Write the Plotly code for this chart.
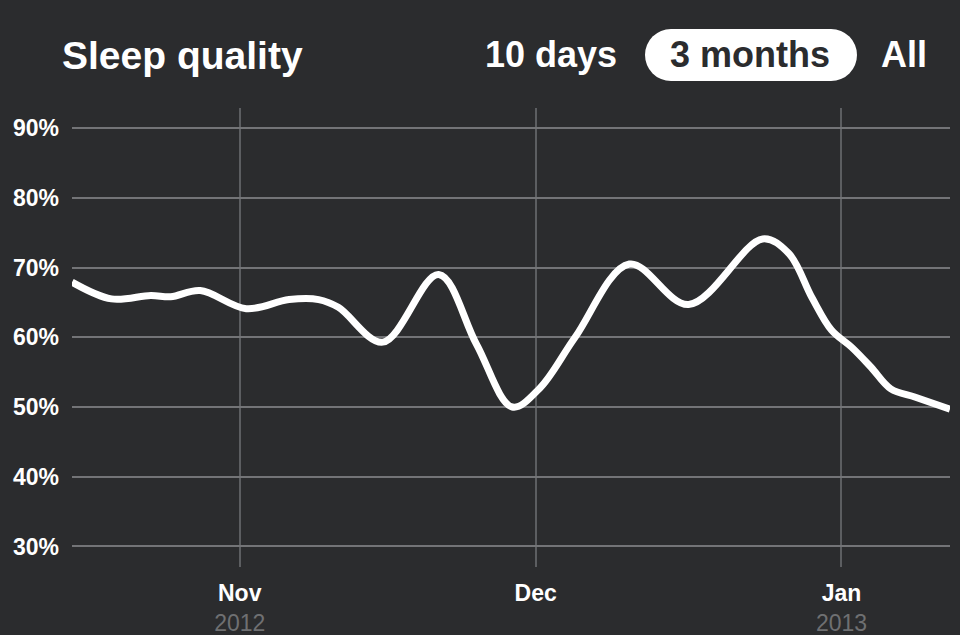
import plotly.graph_objects as go

# ---- data ----
dates = ["2012-10-15", "2012-10-19", "2012-10-23", "2012-10-25", "2012-10-28",
         "2012-11-01 16:00", "2012-11-06", "2012-11-09", "2012-11-11",
         "2012-11-15 12:00", "2012-11-21 04:00", "2012-11-25",
         "2012-11-28 15:00", "2012-12-01 10:00", "2012-12-05",
         "2012-12-10 12:00", "2012-12-16 12:00", "2012-12-24",
         "2012-12-26 16:00", "2012-12-29", "2012-12-31", "2013-01-02", "2013-01-04",
         "2013-01-06", "2013-01-08 12:00", "2013-01-12"]
quality = [67.9, 65.5, 66.0, 65.8, 66.7,
           64.1, 65.4, 65.4, 64.3,
           59.3, 69.0, 59.0,
           50.0, 52.7, 60.0,
           70.5, 64.7, 74.1,
           72.0, 65.7, 61.0, 58.6, 55.7,
           52.6, 51.4, 49.7]

y_ticks = [30, 40, 50, 60, 70, 80, 90]
y_labels = ["30%", "40%", "50%", "60%", "70%", "80%", "90%"]
x_ticks = ["2012-11-01", "2012-12-01", "2013-01-01"]
x_months = ["Nov", "Dec", "Jan"]
x_years = ["2012", "", "2013"]
buttons = ["10 days", "3 months", "All"]
title = "Sleep quality"

BG = "#2b2c2e"
FONT = "Liberation Sans, Arial, Helvetica, sans-serif"

W, H = 960, 635
L, R, T, B = 72, 10, 108, 68
pw, ph = W - L - R, H - T - B


def px_x(x):
    return (x - L) / pw


def px_y(y):
    return (H - B - y) / ph


x_text = []
for m, yr in zip(x_months, x_years):
    t = "<b>" + m + "</b>"
    if yr:
        t += "<br><span style='color:#6f7072'>" + yr + "</span>"
    x_text.append(t)

fig = go.Figure()
fig.add_trace(go.Scatter(
    x=dates, y=quality, mode="lines",
    line=dict(color="white", width=7, shape="spline", smoothing=1.0),
    hoverinfo="skip", showlegend=False,
))

fig.update_layout(
    width=W, height=H,
    margin=dict(l=L, r=R, t=T, b=B, autoexpand=False),
    paper_bgcolor=BG, plot_bgcolor=BG,
    font=dict(family=FONT, color="white"),
    title=dict(text="<b>" + title + "</b>", xref="container", yref="container",
               x=62 / W, xanchor="left", y=1 - 55 / H, yanchor="middle",
               font=dict(size=39, color="white", family=FONT)),
    xaxis=dict(type="date", range=["2012-10-15", "2013-01-12"],
               tickvals=x_ticks, ticktext=x_text, ticks="",
               showgrid=True, gridcolor="#5c5e61", gridwidth=1.5,
               zeroline=False, showline=False, automargin=False,
               tickfont=dict(size=23, color="white", family=FONT),
               ticklabelstandoff=10, fixedrange=True),
    yaxis=dict(range=[27.06, 92.87], tickvals=y_ticks, ticktext=["<b>" + t + "</b>" for t in y_labels],
               ticks="", showgrid=True, gridcolor="#737477", gridwidth=2,
               zeroline=False, showline=False, automargin=False,
               tickfont=dict(size=23, color="white", family=FONT),
               ticklabelstandoff=12, fixedrange=True),
)

# pill behind "3 months"
pill = dict(x0=645, x1=857, y0=29, y1=81)
r = (pill["y1"] - pill["y0"]) / 2
shape_style = dict(xref="paper", yref="paper", fillcolor="white", line=dict(width=0), layer="above")
fig.add_shape(type="rect", x0=px_x(pill["x0"] + r), x1=px_x(pill["x1"] - r),
              y0=px_y(pill["y1"]), y1=px_y(pill["y0"]), **shape_style)
fig.add_shape(type="circle", x0=px_x(pill["x0"]), x1=px_x(pill["x0"] + 2 * r),
              y0=px_y(pill["y1"]), y1=px_y(pill["y0"]), **shape_style)
fig.add_shape(type="circle", x0=px_x(pill["x1"] - 2 * r), x1=px_x(pill["x1"]),
              y0=px_y(pill["y1"]), y1=px_y(pill["y0"]), **shape_style)

btn_x = [551, 750, 904]
btn_col = ["white", "#2b2c2e", "white"]
for label, bx, col in zip(buttons, btn_x, btn_col):
    fig.add_annotation(text="<b>" + label + "</b>", xref="paper", yref="paper",
                       x=px_x(bx), y=px_y(55), xanchor="center", yanchor="middle",
                       showarrow=False, font=dict(size=36, color=col, family=FONT))

fig.write_html("out.html", config={"displayModeBar": False},
               post_script="document.body.style.margin='0';document.body.style.background='" + BG + "';")
